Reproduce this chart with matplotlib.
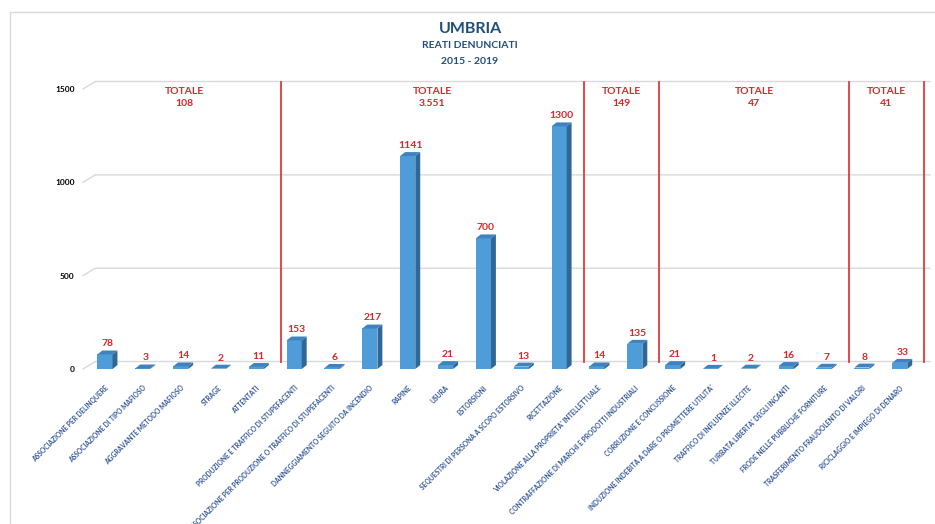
import numpy as np
import matplotlib.pyplot as plt
from matplotlib.patches import Polygon, Rectangle

plt.rcParams['font.family'] = ['Lato', 'DejaVu Sans']

# dati
reati = [
    "ASSOCIAZIONE PER DELINQUERE",
    "ASSOCIAZIONE DI TIPO MAFIOSO",
    "AGGRAVANTE METODO MAFIOSO",
    "STRAGE",
    "ATTENTATI",
    "PRODUZIONE E TRAFFICO DI STUPEFACENTI",
    "ASSOCIAZIONE PER PRODUZIONE O TRAFFICO DI STUPEFACENTI",
    "DANNEGGIAMENTO SEGUITO DA INCENDIO",
    "RAPINE",
    "USURA",
    "ESTORSIONI",
    "SEQUESTRI DI PERSONA A SCOPO ESTORSIVO",
    "RICETTAZIONE",
    "VIOLAZIONE ALLA PROPRIETA' INTELLETTUALE",
    "CONTRAFFAZIONE DI MARCHI E PRODOTTI INDUSTRIALI",
    "CORRUZIONE E CONCUSSIONE",
    "INDUZIONE INDEBITA A DARE O PROMETTERE UTILITA'",
    "TRAFFICO DI INFLUENZE ILLECITE",
    "TURBATA LIBERTA' DEGLI INCANTI",
    "FRODE NELLE PUBBLICHE FORNITURE",
    "TRASFERIMENTO FRAUDOLENTO DI VALORI",
    "RICICLAGGIO E IMPIEGO DI DENARO",
]
valori = [78, 3, 14, 2, 11, 153, 6, 217, 1141, 21, 700, 13, 1300,
          14, 135, 21, 1, 2, 16, 7, 8, 33]
gruppi = [5, 8, 2, 5, 2]   # numero di reati per gruppo
yticks = [0, 500, 1000, 1500]

blu = '#1f4e79'
rosso = '#d9262c'
c_front = '#4f9dd8'
c_side = '#2f6796'
c_top = '#3f82bf'

fig = plt.figure(figsize=(9.35, 5.24), dpi=100)
ax = fig.add_axes([83/935, 155/524, 847/935, 280/524])
x = np.arange(len(valori))
xl, xr = -0.58, 21.8
ax.set_xlim(xl, xr)
ax.set_ylim(0, 1500)

# profondita' 3D (in unita' dati)
w = 0.4
dx, dy = 0.13, 21
fdx, fdy = 0.32, 40

# griglia "3D"
for t in yticks:
    ax.plot([xl, xl + fdx, xr], [t, t + fdy, t + fdy], color='#d9d9d9',
            lw=1, zorder=0, clip_on=False)

# barre
ax.bar(x, valori, width=w, color=c_front, zorder=3)
for xi, v in zip(x, valori):
    side = [(xi + w/2, 0), (xi + w/2 + dx, dy), (xi + w/2 + dx, v + dy), (xi + w/2, v)]
    top = [(xi - w/2, v), (xi + w/2, v), (xi + w/2 + dx, v + dy), (xi - w/2 + dx, v + dy)]
    ax.add_patch(Polygon(side, closed=True, fc=c_side, ec='none', zorder=3))
    ax.add_patch(Polygon(top, closed=True, fc=c_top, ec='none', zorder=3))
    ax.annotate(str(v), (xi + dx/2, v + dy), xytext=(0, 1.5), textcoords='offset points',
                ha='center', va='bottom', color=rosso, fontsize=7.5, fontweight='bold')

# separatori e totali per gruppo
limiti = np.cumsum(gruppi) - 0.5 + 0.15
inizio = xl + 0.15
pos = 0
for n, lim in zip(gruppi, limiti):
    tot = sum(valori[pos:pos + n])
    pos += n
    ax.plot([lim, lim], [fdy, 1500 + fdy], color='#e0393e', lw=1.3, zorder=2, clip_on=False)
    xc = (inizio + lim) / 2
    ax.text(xc, 1489, 'TOTALE', ha='center', va='center', color=rosso,
            fontsize=7.5, fontweight='bold')
    ax.text(xc, 1420, f'{tot:,}'.replace(',', '.'), ha='center', va='center',
            color=rosso, fontsize=7.5, fontweight='bold')
    inizio = lim

ax.set_xticks(x)
ax.set_xticklabels(reati, rotation=45, ha='right', va='top', rotation_mode='anchor',
                   fontsize=4.8, fontweight='bold', color='#2f5597')
ax.set_yticks(yticks)
ax.set_yticklabels([str(t) for t in yticks], fontsize=6, fontweight='bold')
ax.tick_params(axis='x', length=0, pad=11)
ax.tick_params(axis='y', length=0, pad=6)
for s in ax.spines.values():
    s.set_visible(False)

fig.text(470/935, 1 - 29/524, 'UMBRIA', ha='center', va='center', color=blu,
         fontsize=11.5, fontweight='bold')
fig.text(470/935, 1 - 46/524, 'REATI DENUNCIATI', ha='center', va='center', color=blu,
         fontsize=7.5, fontweight='bold')
fig.text(470/935, 1 - 62/524, '2015 - 2019', ha='center', va='center', color=blu,
         fontsize=7.5, fontweight='bold')

fig.patches.append(Rectangle((10/935, -0.01), 1.0, 1 - 12/524 + 0.01, transform=fig.transFigure,
                             fill=False, ec='#d9d9d9', lw=1))

fig.savefig('out.png', dpi=100)
